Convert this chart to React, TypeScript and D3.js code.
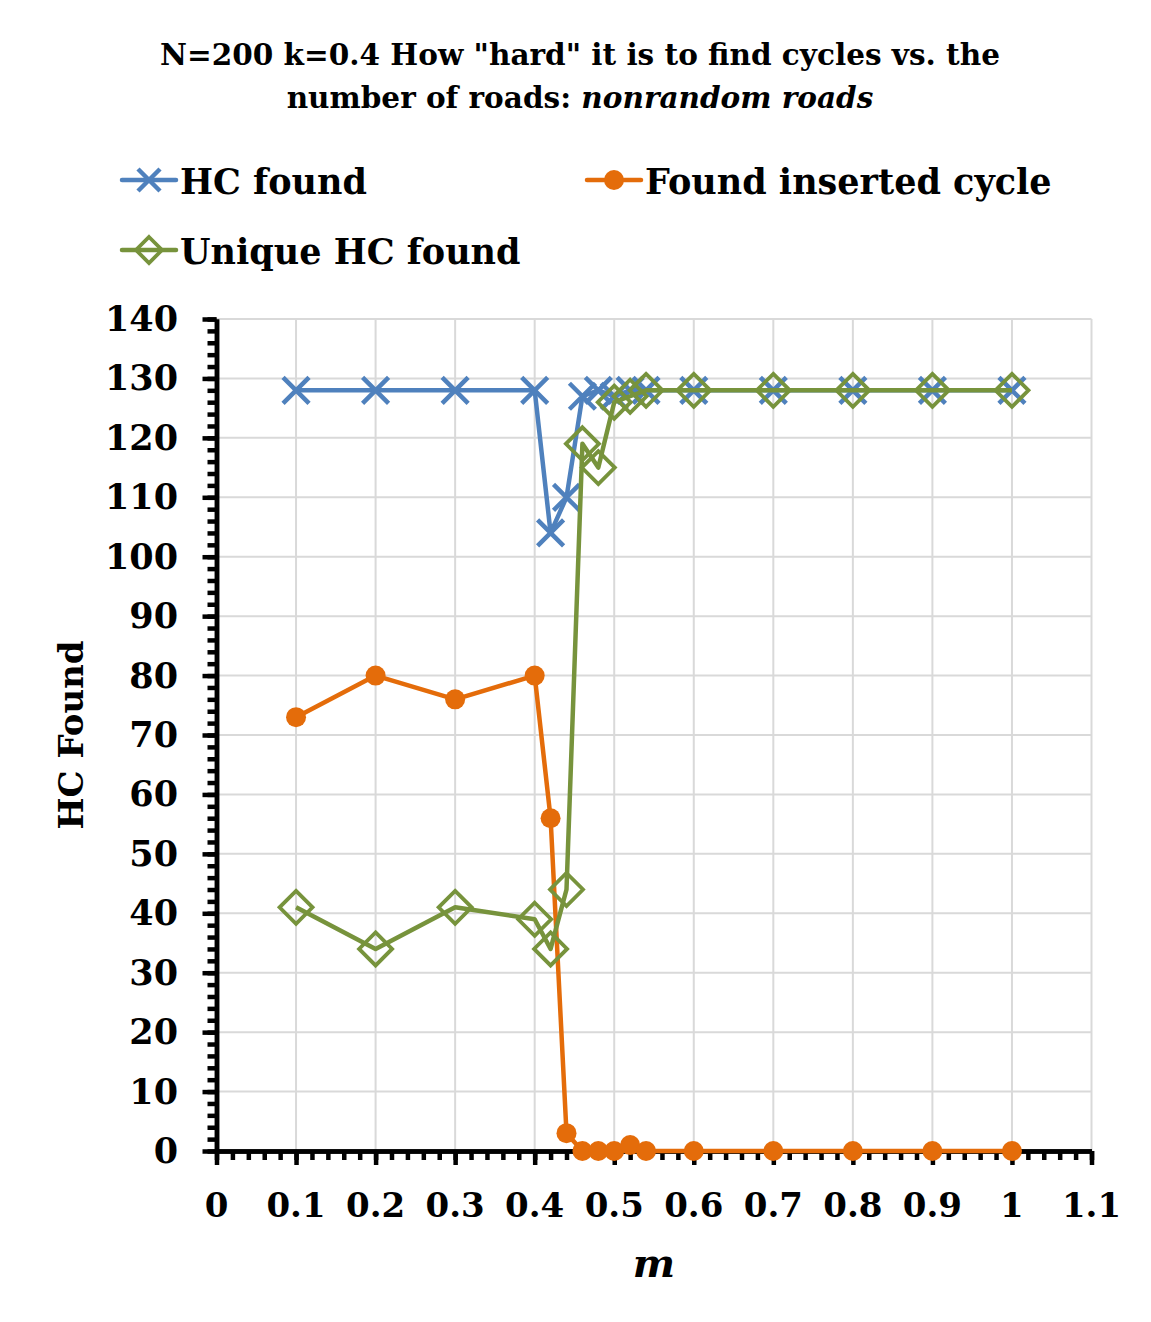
import React, { useEffect, useRef } from "react";
import * as d3 from "d3";

const mValues = [0.1, 0.2, 0.3, 0.4, 0.42, 0.44, 0.46, 0.48, 0.5, 0.52, 0.54, 0.6, 0.7, 0.8, 0.9, 1.0];
const hcFound = [128, 128, 128, 128, 104, 110, 127, 128, 127, 128, 128, 128, 128, 128, 128, 128];
const foundInserted = [73, 80, 76, 80, 56, 3, 0, 0, 0, 1, 0, 0, 0, 0, 0, 0];
const uniqueHc = [41, 34, 41, 39, 34, 44, 119, 115, 126, 127, 128, 128, 128, 128, 128, 128];

const xTicks = [0, 0.1, 0.2, 0.3, 0.4, 0.5, 0.6, 0.7, 0.8, 0.9, 1, 1.1];
const yTicks = [0, 10, 20, 30, 40, 50, 60, 70, 80, 90, 100, 110, 120, 130, 140];

const FONT = "'DejaVu Serif', 'Liberation Serif', serif";
const BLUE = "#4f81bd";
const ORANGE = "#e46c0a";
const GREEN = "#77933c";

const App = () => {
  const ref = useRef<SVGSVGElement>(null);

  useEffect(() => {
    const svg = d3.select(ref.current);
    svg.selectAll("*").remove();

    const x = d3.scaleLinear().domain([0, 1.1]).range([216.5, 1091.5]);
    const y = d3.scaleLinear().domain([0, 140]).range([1151, 319]);

    // frame
    svg.append("rect")
      .attr("x", 5.5).attr("y", 5.5).attr("width", 1140).attr("height", 1313)
      .attr("fill", "#fff").attr("stroke", "#d9d9d9").attr("stroke-width", 1.5);

    // title
    const title = svg.append("text").attr("text-anchor", "middle")
      .attr("font-family", FONT).attr("font-weight", "bold").attr("font-size", 29.5);
    title.append("tspan").attr("x", 580).attr("y", 65).text('N=200 k=0.4 How "hard" it is to find cycles vs. the');
    const t2 = title.append("tspan").attr("x", 580).attr("y", 108);
    t2.append("tspan").text("number of roads: ");
    t2.append("tspan").attr("font-style", "italic").text("nonrandom roads");

    // grid
    const g = svg.append("g");
    g.selectAll(".vg").data(xTicks.filter(d => d > 0)).join("line")
      .attr("x1", d => x(d)).attr("x2", d => x(d)).attr("y1", y(140)).attr("y2", y(0))
      .attr("stroke", "#d9d9d9").attr("stroke-width", 2);
    g.selectAll(".hg").data(yTicks.filter(d => d > 0)).join("line")
      .attr("x1", x(0)).attr("x2", x(1.1)).attr("y1", d => y(d)).attr("y2", d => y(d))
      .attr("stroke", "#d9d9d9").attr("stroke-width", 2);

    // axes (minor and major ticks in separate groups)
    const yMinor = svg.append("g").attr("transform", `translate(${x(0)},0)`)
      .call(d3.axisLeft(y).tickValues(d3.range(0, 141, 2)).tickSize(9).tickSizeOuter(0).tickFormat(() => ""));
    const yMajor = svg.append("g").attr("transform", `translate(${x(0)},0)`)
      .call(d3.axisLeft(y).tickValues(yTicks).tickSize(14).tickSizeOuter(0).tickFormat(() => ""));
    const xMinor = svg.append("g").attr("transform", `translate(0,${y(0)})`)
      .call(d3.axisBottom(x).tickValues(d3.range(0, 56).map(i => i * 0.02)).tickSize(9).tickSizeOuter(0).tickFormat(() => ""));
    const xMajor = svg.append("g").attr("transform", `translate(0,${y(0)})`)
      .call(d3.axisBottom(x).tickValues(xTicks).tickSize(14).tickSizeOuter(0).tickFormat(() => ""));
    [yMinor, yMajor, xMinor, xMajor].forEach(a => {
      a.selectAll("line").attr("stroke", "#000").attr("stroke-width", 4.5);
      a.selectAll(".domain").attr("stroke", "#000").attr("stroke-width", 4.5);
    });

    // tick labels
    svg.selectAll(".yl").data(yTicks).join("text")
      .attr("x", 178).attr("y", d => y(d) + 12).attr("text-anchor", "end")
      .attr("font-family", FONT).attr("font-weight", "bold").attr("font-size", 35).text(d => d);
    svg.selectAll(".xl").data(xTicks).join("text")
      .attr("x", d => x(d)).attr("y", 1217).attr("text-anchor", "middle")
      .attr("font-family", FONT).attr("font-weight", "bold").attr("font-size", 34)
      .text(d => d3.format("~g")(d));

    // axis titles
    svg.append("text").attr("transform", "translate(83,735) rotate(-90)").attr("text-anchor", "middle")
      .attr("font-family", FONT).attr("font-weight", "bold").attr("font-size", 34).text("HC Found");
    svg.append("text").attr("x", 654).attr("y", 1277).attr("text-anchor", "middle")
      .attr("font-family", FONT).attr("font-weight", "bold").attr("font-style", "italic").attr("font-size", 40).text("m");

    const line = d3.line<number>().x((_, i) => x(mValues[i])).y(d => y(d));

    const drawX = (sel: any, cx: number, cy: number, s: number, color: string) => {
      sel.append("path").attr("d", `M${cx - s},${cy - s}L${cx + s},${cy + s}M${cx - s},${cy + s}L${cx + s},${cy - s}`)
        .attr("stroke", color).attr("stroke-width", 4.5).attr("fill", "none");
    };
    const drawD = (sel: any, cx: number, cy: number, s: number, color: string) => {
      sel.append("path").attr("d", `M${cx},${cy - s}L${cx + s},${cy}L${cx},${cy + s}L${cx - s},${cy}Z`)
        .attr("stroke", color).attr("stroke-width", 3.8).attr("fill", "none");
    };

    // HC found
    const sb = svg.append("g");
    sb.append("path").datum(hcFound).attr("d", line).attr("fill", "none").attr("stroke", BLUE).attr("stroke-width", 4.5).attr("stroke-linejoin", "round");
    hcFound.forEach((v, i) => drawX(sb, x(mValues[i]), y(v), 13, BLUE));

    // found inserted
    const so = svg.append("g");
    so.append("path").datum(foundInserted).attr("d", line).attr("fill", "none").attr("stroke", ORANGE).attr("stroke-width", 4.5).attr("stroke-linejoin", "round");
    so.selectAll("circle").data(foundInserted).join("circle")
      .attr("cx", (_, i) => x(mValues[i])).attr("cy", d => y(d)).attr("r", 10).attr("fill", ORANGE);

    // unique
    const sg = svg.append("g");
    sg.append("path").datum(uniqueHc).attr("d", line).attr("fill", "none").attr("stroke", GREEN).attr("stroke-width", 4.5).attr("stroke-linejoin", "round");
    uniqueHc.forEach((v, i) => drawD(sg, x(mValues[i]), y(v), 16.5, GREEN));

    // legend
    const lg = svg.append("g");
    const items = [
      { label: "HC found", lx: 122, ly: 180, color: BLUE, kind: "x" },
      { label: "Found inserted cycle", lx: 587, ly: 180, color: ORANGE, kind: "o" },
      { label: "Unique HC found", lx: 122, ly: 250, color: GREEN, kind: "d" },
    ];
    items.forEach(it => {
      lg.append("line").attr("x1", it.lx).attr("x2", it.lx + 54).attr("y1", it.ly).attr("y2", it.ly)
        .attr("stroke", it.color).attr("stroke-width", 4.5).attr("stroke-linecap", "round");
      const cx = it.lx + 27;
      if (it.kind === "x") drawX(lg, cx, it.ly, 11, it.color);
      if (it.kind === "o") lg.append("circle").attr("cx", cx).attr("cy", it.ly).attr("r", 10).attr("fill", it.color);
      if (it.kind === "d") drawD(lg, cx, it.ly, 13, it.color);
      lg.append("text").attr("x", it.lx + 58).attr("y", it.ly + 14)
        .attr("font-family", FONT).attr("font-weight", "bold").attr("font-size", 35).text(it.label);
    });
  }, []);

  return (
    <div>
      <svg ref={ref} width={1151} height={1322} style={{ display: "block", margin: -8 }} />
    </div>
  );
};

export default App;
